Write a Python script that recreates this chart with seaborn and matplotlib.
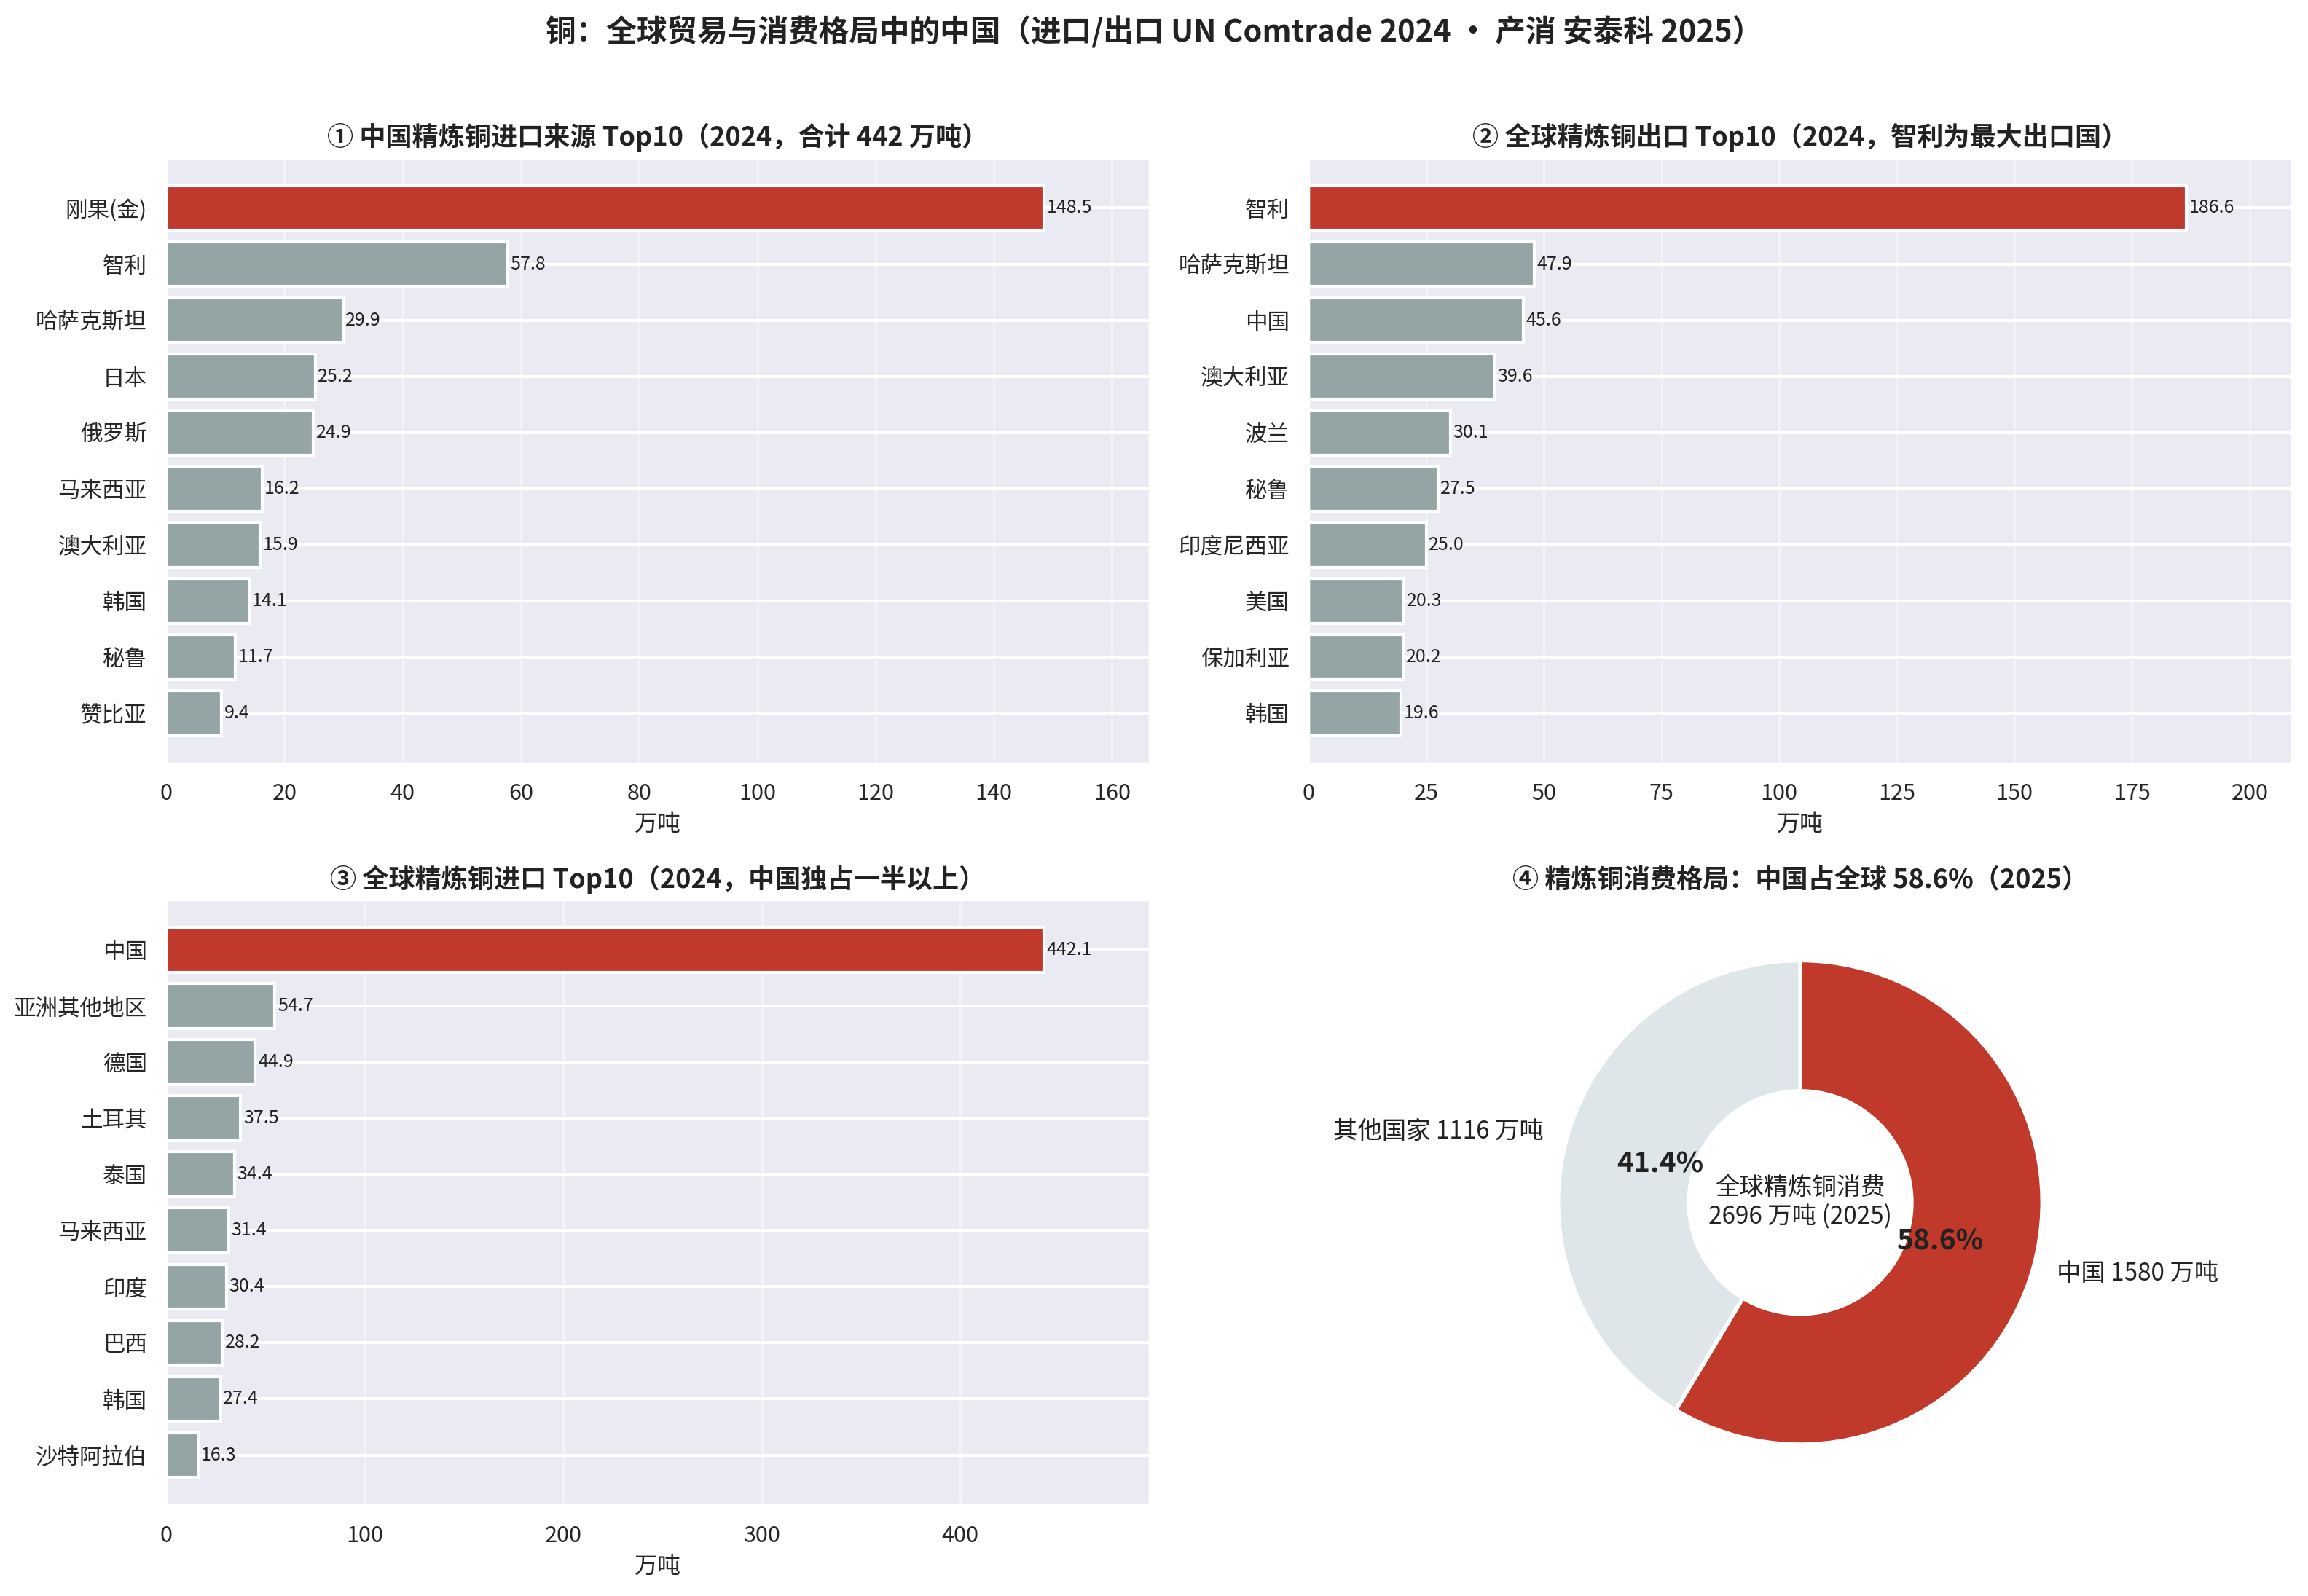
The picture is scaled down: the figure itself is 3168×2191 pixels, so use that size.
import matplotlib
matplotlib.use("Agg")
import matplotlib.pyplot as plt
import seaborn as sns
import numpy as np

# ---------------- data ----------------
imp_src_names = ["刚果(金)", "智利", "哈萨克斯坦", "日本", "俄罗斯", "马来西亚", "澳大利亚", "韩国", "秘鲁", "赞比亚"]
imp_src_vals = [148.5, 57.8, 29.9, 25.2, 24.9, 16.2, 15.9, 14.1, 11.7, 9.4]

exp_names = ["智利", "哈萨克斯坦", "中国", "澳大利亚", "波兰", "秘鲁", "印度尼西亚", "美国", "保加利亚", "韩国"]
exp_vals = [186.6, 47.9, 45.6, 39.6, 30.1, 27.5, 25.0, 20.3, 20.2, 19.6]

imp_names = ["中国", "亚洲其他地区", "德国", "土耳其", "泰国", "马来西亚", "印度", "巴西", "韩国", "沙特阿拉伯"]
imp_vals = [442.1, 54.7, 44.9, 37.5, 34.4, 31.4, 30.4, 28.2, 27.4, 16.3]

cons_labels = ["中国", "其他国家"]
cons_vals = [1580, 1116]
cons_total = 2696

titles = [
    "① 中国精炼铜进口来源 Top10（2024，合计 442 万吨）",
    "② 全球精炼铜出口 Top10（2024，智利为最大出口国）",
    "③ 全球精炼铜进口 Top10（2024，中国独占一半以上）",
    "④ 精炼铜消费格局：中国占全球 58.6%（2025）",
]
suptitle = "铜：全球贸易与消费格局中的中国（进口/出口 UN Comtrade 2024 · 产消 安泰科 2025）"
xlabel = "万吨"

RED = "#c0392b"
GREY = "#95a5a6"
LIGHT = "#dfe6e9"

# ---------------- style ----------------
sns.set_theme(style="darkgrid")
plt.rcParams["font.family"] = ["Noto Sans CJK SC", "DejaVu Sans"]
plt.rcParams["axes.unicode_minus"] = False

fig, axes = plt.subplots(2, 2, figsize=(15.84, 10.955), dpi=200)
fig.subplots_adjust(left=0.072, right=0.993, top=0.901, bottom=0.057,
                    wspace=0.162, hspace=0.226)

fig.suptitle(suptitle, fontsize=15, fontweight="bold", y=0.990, color="#222222")


def bar_panel(ax, names, vals, title):
    colors = [RED] + [GREY] * (len(names) - 1)
    sns.barplot(x=vals, y=names, hue=names, palette=colors, legend=False,
                orient="h", ax=ax, edgecolor="white", linewidth=1.5,
                width=0.8, saturation=1)
    vmax = max(vals)
    ax.set_xlim(0, vmax * 1.12)
    ax.set_ylim(len(names) - 1 + 0.89, -0.89)
    for i, v in enumerate(vals):
        ax.text(v + vmax * 0.003, i, f"{v:.1f}", va="center", ha="left",
                fontsize=9, color="#222222")
    ax.set_title(title, fontsize=13, fontweight="bold", color="#222222", pad=6)
    ax.set_xlabel(xlabel, fontsize=11.5)
    ax.set_ylabel("")
    ax.tick_params(axis="both", labelsize=11)
    ax.yaxis.grid(True, color="white", linewidth=1.5)
    ax.xaxis.grid(True, color="white", linewidth=1.0, alpha=0.5)
    ax.set_axisbelow(True)


bar_panel(axes[0, 0], imp_src_names, imp_src_vals, titles[0])
bar_panel(axes[0, 1], exp_names, exp_vals, titles[1])
bar_panel(axes[1, 0], imp_names, imp_vals, titles[2])

# ---------------- donut ----------------
ax = axes[1, 1]
lbls = [f"{n} {v} 万吨" for n, v in zip(cons_labels, cons_vals)]
wedges, texts, autotexts = ax.pie(
    cons_vals, labels=lbls, colors=[RED, LIGHT], startangle=90,
    counterclock=False, autopct="%.1f%%", pctdistance=0.6, labeldistance=1.1,
    wedgeprops=dict(width=0.54, edgecolor="white", linewidth=2),
    textprops=dict(fontsize=12, color="#222222"))
for t in autotexts:
    t.set_fontsize(14)
    t.set_fontweight("bold")
    t.set_color("#222222")
ax.text(0, 0, f"全球精炼铜消费\n{cons_total} 万吨 (2025)", ha="center", va="center",
        fontsize=12, color="#222222")
ax.set_aspect("equal")
ax.set_title(titles[3], fontsize=13, fontweight="bold", color="#222222", pad=6)

fig.savefig("out.png", dpi=200)
